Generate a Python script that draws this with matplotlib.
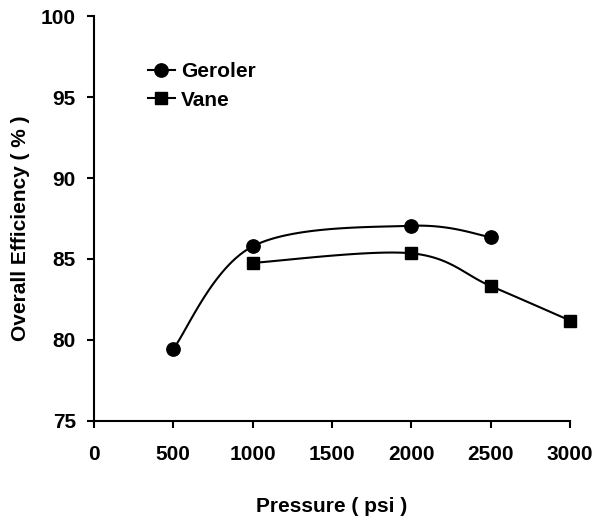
import numpy as np
import matplotlib
matplotlib.use("Agg")
import matplotlib.pyplot as plt

plt.rcParams['font.family'] = ['Liberation Sans', 'DejaVu Sans']
plt.rcParams['font.weight'] = 'bold'

geroler_x = [500, 1000, 2000, 2500]
geroler_y = [79.45, 85.78, 87.05, 86.35]
vane_x = [1000, 2000, 2500, 3000]
vane_y = [84.76, 85.35, 83.33, 81.2]
xticks = [0, 500, 1000, 1500, 2000, 2500, 3000]
yticks = [75, 80, 85, 90, 95, 100]

FS = 15

fig = plt.figure(figsize=(5.95, 5.19), dpi=100)
ax = fig.add_axes([0.158, 0.189, 0.800, 0.780])
ax.set_xlim(0, 3000)
ax.set_ylim(75, 100)


def smooth(xs, ys, n=40):
    # Catmull-Rom (Excel-like smoothing) computed in display space
    pts = ax.transData.transform(np.column_stack([xs, ys]))
    P = np.vstack([pts[0], pts, pts[-1]])
    out = []
    for i in range(1, len(P) - 2):
        p0, p1, p2, p3 = P[i - 1], P[i], P[i + 1], P[i + 2]
        c1 = p1 + (p2 - p0) / 6.0
        c2 = p2 - (p3 - p1) / 6.0
        t = np.linspace(0, 1, n)[:, None]
        seg = ((1 - t) ** 3) * p1 + 3 * ((1 - t) ** 2) * t * c1 + 3 * (1 - t) * t ** 2 * c2 + t ** 3 * p2
        out.append(seg if i == 1 else seg[1:])
    out = np.vstack(out)
    d = ax.transData.inverted().transform(out)
    return d[:, 0], d[:, 1]


sx, sy = smooth(geroler_x, geroler_y)
ax.plot(sx, sy, color='black', lw=1.5, clip_on=False)
ax.plot(geroler_x, geroler_y, 'o', color='black', ms=9.6, ls='none', clip_on=False, zorder=3)
sx, sy = smooth(vane_x, vane_y)
ax.plot(sx, sy, color='black', lw=1.5, clip_on=False)
ax.plot(vane_x, vane_y, 's', color='black', ms=9.2, ls='none', clip_on=False, zorder=3)

# legend entries
ax.plot([], [], '-o', color='black', lw=1.5, ms=9.6, label='Geroler')
ax.plot([], [], '-s', color='black', lw=1.5, ms=9.2, label='Vane')
h, l = ax.get_legend_handles_labels()
leg = ax.legend(h[-2:], l[-2:], loc='upper left', bbox_to_anchor=(0.113, 0.886),
                frameon=False, fontsize=FS, handlelength=1.3, handletextpad=0.3,
                labelspacing=0.45, borderaxespad=0, borderpad=0)

ax.spines['top'].set_visible(False)
ax.spines['right'].set_visible(False)
ax.spines['left'].set_linewidth(1.5)
ax.spines['bottom'].set_linewidth(1.5)
ax.set_xticks(xticks)
ax.set_yticks(yticks)
ax.tick_params(direction='out', length=5, width=1.5, labelsize=FS)
ax.tick_params(axis='x', pad=12)
ax.tick_params(axis='y', pad=8)
for lab in ax.get_xticklabels() + ax.get_yticklabels():
    lab.set_fontweight('bold')
ax.set_xlabel('Pressure ( psi )', fontsize=FS, fontweight='bold', labelpad=24)
ax.set_ylabel('Overall Efficiency ( % )', fontsize=FS, fontweight='bold')
ax.yaxis.set_label_coords(-0.135, 0.477)

fig.savefig('out.png', dpi=100)
